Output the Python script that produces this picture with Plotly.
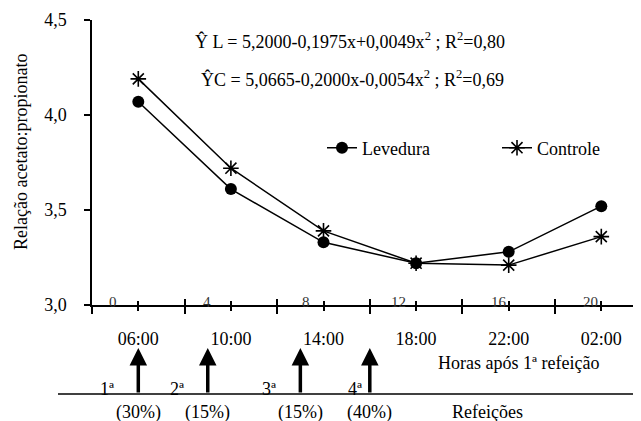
import plotly.graph_objects as go

# ---- data ----
times = ["06:00", "10:00", "14:00", "18:00", "22:00", "02:00"]
hours = [0, 4, 8, 12, 16, 20]
hour_labels = ["0", "4", "8", "12", "16", "20"]
levedura = [4.07, 3.61, 3.33, 3.22, 3.28, 3.52]
controle = [4.19, 3.72, 3.39, 3.22, 3.21, 3.36]
meal_hours = [0, 3, 7, 10]
meal_order = ["1ª", "2ª", "3ª", "4ª"]
meal_pct = ["(30%)", "(15%)", "(15%)", "(40%)"]
eq_L = "Ŷ L = 5,2000-0,1975x+0,0049x<sup>2</sup> ; R<sup>2</sup>=0,80"
eq_C = "ŶC = 5,0665-0,2000x-0,0054x<sup>2</sup> ; R<sup>2</sup>=0,69"

FONT = "Liberation Serif, Tinos, Times New Roman, DejaVu Serif, serif"
OFF = 8                       # page body margin
W, H = 641 - OFF, 421 - OFF
ML, MR, MT, MB = 92 - OFF, 0, 20 - OFF, 421 - 305
PW, PH = W - ML - MR, H - MT - MB

def py(px):  # page pixel row -> paper y
    return (H - MB - (px - OFF)) / PH

def pxx(px):  # page pixel column -> paper x
    return (px - OFF - ML) / PW

def txt(size=18, color="black"):
    return dict(size=size, family=FONT, color=color)

fig = go.Figure()
fig.add_trace(go.Scatter(x=hours, y=levedura, name="Levedura", mode="lines+markers",
                         line=dict(color="black", width=1.5),
                         marker=dict(symbol="circle", size=12, color="black")))
fig.add_trace(go.Scatter(x=hours, y=controle, name="Controle", mode="lines+markers",
                         line=dict(color="black", width=1.5),
                         marker=dict(symbol="asterisk-open", size=13,
                                     line=dict(color="black", width=1.6))))
# invisible trace to activate overlay axis (inside ticks -> crossing ticks)
fig.add_trace(go.Scatter(x=hours, y=levedura, xaxis="x2", mode="markers",
                         marker=dict(opacity=0), showlegend=False, hoverinfo="skip"))

xr = [-2, -2 + PW / ((601 - 138) / 20)]
fig.update_layout(
    width=W, height=H, margin=dict(l=ML, r=MR, t=MT, b=MB, autoexpand=False),
    paper_bgcolor="white", plot_bgcolor="white",
    separators=", ",
    font=txt(),
    showlegend=True,
    legend=dict(orientation="h", x=pxx(322), y=py(148), xanchor="left", yanchor="middle",
                font=txt(), entrywidth=130, bgcolor="rgba(0,0,0,0)", itemwidth=30),
    xaxis=dict(range=xr, showgrid=False, zeroline=False, showline=True,
               linecolor="black", linewidth=1.5,
               tickmode="array", tickvals=hours, ticktext=times,
               ticks="outside", ticklen=4, tickwidth=1.5, tickcolor="black",
               ticklabelstandoff=13, tickfont=txt(),
               minor=dict(tickmode="linear", tick0=-2, dtick=4, ticks="outside",
                          ticklen=7, tickwidth=1.5, tickcolor="black")),
    xaxis2=dict(range=xr, overlaying="x", anchor="y", side="bottom",
                showgrid=False, zeroline=False, showline=False,
                tickmode="array", tickvals=hours, showticklabels=False,
                ticks="inside", ticklen=4, tickwidth=1.5, tickcolor="black",
                minor=dict(tickmode="linear", tick0=-2, dtick=4, ticks="inside",
                           ticklen=6, tickwidth=1.5, tickcolor="black")),
    yaxis=dict(range=[3.0, 4.5], showgrid=False, zeroline=False, showline=True,
               linecolor="black", linewidth=1.5,
               tickmode="linear", tick0=3.0, dtick=0.5, tickformat=".1f",
               ticks="outside", ticklen=6, tickwidth=1.5, tickcolor="black",
               ticklabelstandoff=14, tickfont=txt()),
)

C = dict(xanchor="center", yanchor="middle", showarrow=False)
ann = []
# y axis title
ann.append(dict(x=pxx(21), y=py(152), xref="paper", yref="paper",
                text="Relação acetato:propionato", textangle=-90, font=txt(), **C))
# hour numbers on the axis
hour_shift = [-25, -24, -18, -18, -10, -11]
for h, t, s in zip(hours, hour_labels, hour_shift):
    ann.append(dict(x=h, y=3.0, xref="x", yref="y", text=t,
                    xshift=s, yshift=3, font=txt(15, "#333"), **C))
# equations
ann.append(dict(x=pxx(350), y=py(40), xref="paper", yref="paper", text=eq_L, font=txt(), **C))
ann.append(dict(x=pxx(352), y=py(78), xref="paper", yref="paper", text=eq_C, font=txt(), **C))
# x axis title
ann.append(dict(x=pxx(518), y=py(363), xref="paper", yref="paper",
                text="Horas após 1ª refeição", font=txt(), **C))
# meals
order_shift = [-31, -31, -31, -15]
for h, o, p, s in zip(meal_hours, meal_order, meal_pct, order_shift):
    ann.append(dict(x=h, y=py(348), xref="x", yref="paper", text="", showarrow=True,
                    ax=0, ay=46, arrowhead=2, arrowsize=1.0, arrowwidth=3.5,
                    arrowcolor="black", standoff=0, startstandoff=0))
    ann.append(dict(x=h, y=py(389), xref="x", yref="paper", text=o,
                    xshift=s, font=txt(), **C))
    ann.append(dict(x=h, y=py(412), xref="x", yref="paper", text=p, font=txt(), **C))
ann.append(dict(x=pxx(487), y=py(412), xref="paper", yref="paper",
                text="Refeições", font=txt(), **C))
fig.update_layout(annotations=ann)

fig.add_shape(type="line", xref="paper", yref="paper",
              x0=pxx(58), x1=1, y0=py(394), y1=py(394),
              line=dict(color="black", width=1.5))

fig.write_html("out.html")
